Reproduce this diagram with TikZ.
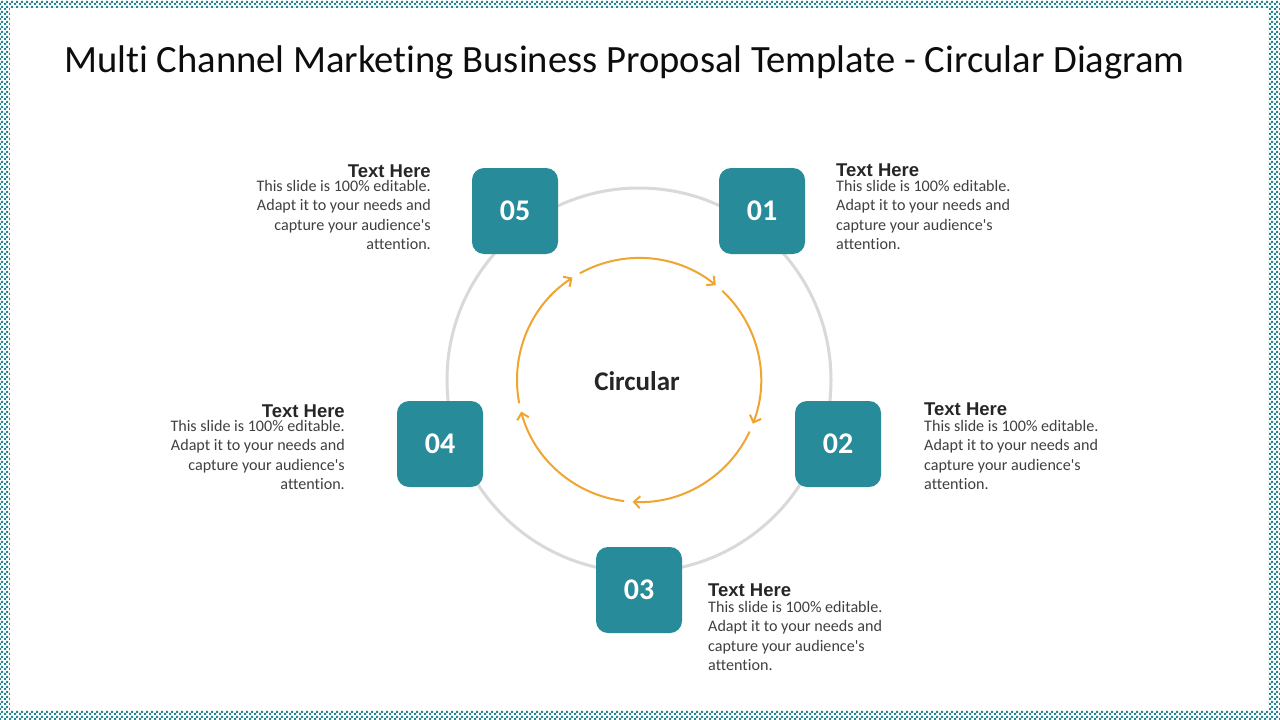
\documentclass[tikz,border=0pt]{standalone}
\usepackage{fontspec}
\setmainfont{Carlito}[Ligatures={NoCommon}]
\newfontfamily\headfont{Liberation Sans}
\usetikzlibrary{arrows.meta,patterns.meta}
\definecolor{tealbox}{HTML}{278B9A}
\definecolor{ringgray}{HTML}{D9D9D9}
\definecolor{arroworange}{HTML}{F0A530}
\definecolor{bordteal}{HTML}{2A8590}
\definecolor{headtxt}{HTML}{262626}
\definecolor{bodytxt}{HTML}{404040}
\tikzdeclarepattern{name=checkers, type=uncolored,
  bounding box={(0pt,0pt) and (5pt,5pt)}, tile size={(5pt,5pt)},
  code={\fill (0pt,0pt) rectangle (2.5pt,2.5pt); \fill (2.5pt,2.5pt) rectangle (5pt,5pt);}}
\newcommand{\bodytext}{This slide is 100\% editable.\\Adapt it to your needs and\\capture your audience\textquotesingle s\\attention.}
\tikzset{
  numbox/.style={fill=tealbox, rounded corners=12pt, minimum width=86pt, minimum height=86pt,
     inner sep=0pt, text=white, font=\fontsize{30}{30}\selectfont\bfseries},
  heading/.style={inner sep=0pt, text=headtxt, font=\headfont\fontsize{18.5}{20}\selectfont\bfseries},
  bodyl/.style={inner sep=0pt, text=bodytxt, align=left, font=\fontsize{16.1}{19.5}\selectfont},
  bodyr/.style={inner sep=0pt, text=bodytxt, align=right, font=\fontsize{16.1}{19.5}\selectfont},
  cyc/.style={draw=arroworange, line width=2pt, -{Straight Barb[length=6pt,width=12pt,line width=2pt]}}
}
\begin{document}
\begin{tikzpicture}[x=1pt,y=-1pt]
\useasboundingbox (0,0) rectangle (1280,720);
\fill[white] (0,0) rectangle (1280,720);
\fill[pattern=checkers, pattern color=bordteal] (0,0) rectangle (1280,720);
\fill[white] (10,8) rectangle (1268,710);

\node[anchor=base west, inner sep=0pt, text=black!95, font=\fontsize{38.6}{42}\selectfont] (title) at (64,72)
  {Multi Channel Marketing Business Proposal Template - Circular Diagram};

\coordinate (c) at (639,380);
\draw[ringgray, line width=3pt] (c) circle[radius=192];

\draw[cyc] (c) ++(-119:122) arc[start angle=-119, end angle=-51, radius=122];
\draw[cyc] (c) ++(-47:122) arc[start angle=-47, end angle=21, radius=122];
\draw[cyc] (c) ++(25:122) arc[start angle=25, end angle=93, radius=122];
\draw[cyc] (c) ++(97:122) arc[start angle=97, end angle=165, radius=122];
\draw[cyc] (c) ++(169:122) arc[start angle=169, end angle=237, radius=122];

\node[inner sep=0pt, text=headtxt, font=\fontsize{27}{29}\selectfont\bfseries] (center) at (637,381) {Circular};

\node[numbox] (n1) at (762,211) {01};
\node[numbox] (n2) at (838,444) {02};
\node[numbox] (n3) at (639,590) {03};
\node[numbox] (n4) at (440,444) {04};
\node[numbox] (n5) at (515,211) {05};

% 01
\node[heading, anchor=base west] (h1) at (836,176) {Text Here};
\node[bodyl, anchor=north west] (b1) at (836,180) {\bodytext};
% 02
\node[heading, anchor=base west] (h2) at (924,415) {Text Here};
\node[bodyl, anchor=north west] (b2) at (924,420) {\bodytext};
% 03
\node[heading, anchor=base west] (h3) at (708,596) {Text Here};
\node[bodyl, anchor=north west] (b3) at (708,601) {\bodytext};
% 04
\node[heading, anchor=base east] (h4) at (345,417) {Text Here};
\node[bodyr, anchor=north east] (b4) at (345,420) {\bodytext};
% 05
\node[heading, anchor=base east] (h5) at (431,177) {Text Here};
\node[bodyr, anchor=north east] (b5) at (431,180) {\bodytext};
\end{tikzpicture}
\end{document}
